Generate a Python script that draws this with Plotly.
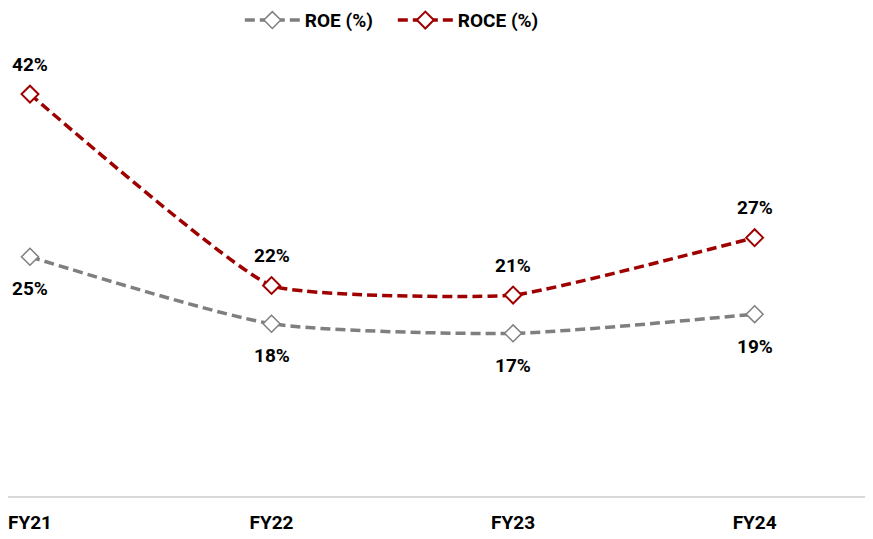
import plotly.graph_objects as go

years = ["FY21", "FY22", "FY23", "FY24"]
roe = [25, 18, 17, 19]
roce = [42, 22, 21, 27]

FONT = "Roboto, Arial"
GREY = "#7f7f7f"
RED = "#9e0000"

fig = go.Figure()

fig.add_trace(go.Scatter(
    x=years, y=roe, name="ROE (%)",
    mode="lines+markers",
    line=dict(color=GREY, width=3.5, dash="10px,5px", shape="spline", smoothing=0.6),
    marker=dict(symbol="diamond", size=13, color="white", line=dict(color=GREY, width=1.5)),
    cliponaxis=False,
))

fig.add_trace(go.Scatter(
    x=years, y=roce, name="ROCE (%)",
    mode="lines+markers",
    line=dict(color=RED, width=3.5, dash="10px,5px", shape="spline", smoothing=0.4),
    marker=dict(symbol="diamond", size=13, color="white", line=dict(color=RED, width=2)),
    cliponaxis=False,
))

# data labels: ROE below, ROCE above
for yr, v in zip(years, roe):
    fig.add_annotation(x=yr, y=v, text=f"{v}%", showarrow=False, yshift=-32,
                       font=dict(size=19, color="black", family=FONT, weight="bold"))
for yr, v in zip(years, roce):
    fig.add_annotation(x=yr, y=v, text=f"{v}%", showarrow=False, yshift=30,
                       font=dict(size=19, color="black", family=FONT, weight="bold"))

fig.update_layout(
    width=865, height=531,
    margin=dict(l=0, r=0, t=0, b=43, autoexpand=False),
    plot_bgcolor="white",
    paper_bgcolor="white",
    font=dict(family=FONT, size=18, color="black", weight="bold"),
    showlegend=True,
    legend=dict(orientation="h", x=0.268, xanchor="left", y=0.975, yanchor="middle",
                font=dict(size=19, weight="bold"), bgcolor="rgba(0,0,0,0)",
                itemwidth=55, entrywidth=83),
    xaxis=dict(type="category", range=[-0.091, 3.49], showgrid=False, zeroline=False,
               showline=True, linecolor="#d9d9d9", linewidth=2, ticks="",
               tickfont=dict(size=19, weight="bold"), ticklabelstandoff=8),
    yaxis=dict(range=[0, 51], showgrid=False, zeroline=False, showticklabels=False,
               showline=False),
)

fig.write_html("out.html")
